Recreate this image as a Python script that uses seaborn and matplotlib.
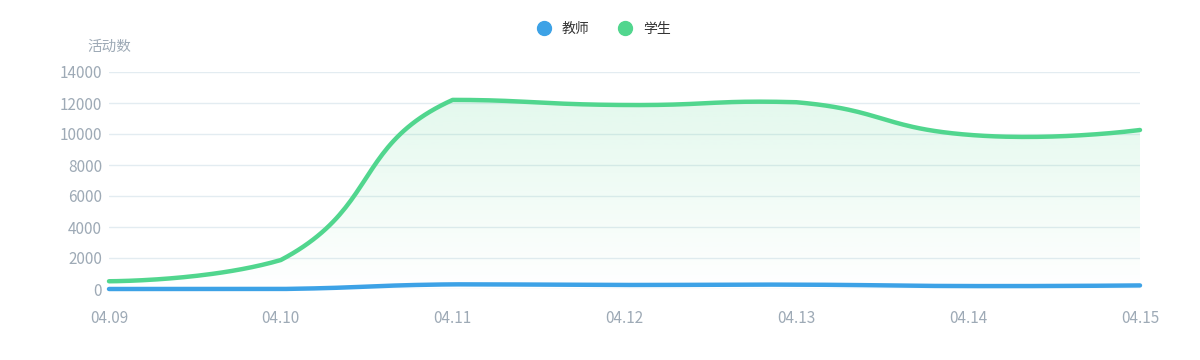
import numpy as np
import pandas as pd
import matplotlib
matplotlib.use("Agg")
import matplotlib.pyplot as plt
import seaborn as sns
from matplotlib.path import Path
from matplotlib.patches import PathPatch
from matplotlib.lines import Line2D
from matplotlib.colors import LinearSegmentedColormap

# ---- data ----
dates = ["04.09", "04.10", "04.11", "04.12", "04.13", "04.14", "04.15"]
teacher = [0, 0, 300, 260, 280, 190, 230]
student = [500, 1870, 12200, 11870, 12050, 9950, 10260]
series_names = ["教师", "学生"]
y_ticks = [0, 2000, 4000, 6000, 8000, 10000, 12000, 14000]
y_label = "活动数"

BLUE = "#3da2e6"
GREEN = "#51d68e"
TICK_C = "#9eaab6"

sns.set_theme(style="white")
plt.rcParams['font.family'] = ['Noto Sans CJK SC', 'DejaVu Sans']

AX_L, AX_R, AX_T, AX_B = 109, 1140, 72, 289
fig = plt.figure(figsize=(12, 3.6), dpi=100)
ax = fig.add_axes([AX_L / 1200, (360 - AX_B) / 360, (AX_R - AX_L) / 1200, (AX_B - AX_T) / 360])
ax.set_xlim(0, len(dates) - 1)
ax.set_ylim(0, 14000)

# pixel scales used for echarts-like smoothing
PX_X = (AX_R - AX_L) / (len(dates) - 1)
PX_Y = (AX_B - AX_T) / 14000


def echarts_smooth(vals, smooth=0.5, n=48):
    P = np.array([(i * PX_X, v * PX_Y) for i, v in enumerate(vals)], dtype=float)
    lo = P.min(axis=0)
    hi = P.max(axis=0)
    out = []
    cp0 = P[0].copy()
    for k in range(1, len(P)):
        p = P[k]
        prev = P[k - 1]
        if k == len(P) - 1:
            cp1 = p.copy()
            v = np.zeros(2)
            r = 0.5
        else:
            nxt = P[k + 1]
            v = nxt - prev
            lp = np.linalg.norm(p - prev)
            ln = np.linalg.norm(nxt - p)
            r = ln / (ln + lp)
            cp1 = p - v * smooth * (1 - r)
        c0 = np.clip(cp0, lo, hi)
        c1 = np.clip(cp1, lo, hi)
        t = np.linspace(0, 1, n)[:, None]
        seg = ((1 - t) ** 3) * prev + 3 * ((1 - t) ** 2) * t * c0 + 3 * (1 - t) * t ** 2 * c1 + t ** 3 * p
        if k > 1:
            seg = seg[1:]
        out.append(seg)
        cp0 = p + v * smooth * r
    arr = np.vstack(out)
    return arr[:, 0] / PX_X, arr[:, 1] / PX_Y


tx, ty = echarts_smooth(teacher)
sx, sy = echarts_smooth(student)

# gradient area under student line
poly = np.vstack([np.column_stack([sx, sy]), [[sx[-1], 0], [sx[0], 0]]])
clip = PathPatch(Path(poly), facecolor="none", edgecolor="none")
ax.add_patch(clip)
cmap = LinearSegmentedColormap.from_list(
    "g", [(81 / 255, 214 / 255, 142 / 255, 0.0), (81 / 255, 214 / 255, 142 / 255, 0.16)])
grad = np.linspace(0, 1, 256).reshape(-1, 1)
im = ax.imshow(grad, extent=[0, len(dates) - 1, 0, max(student)], origin="lower",
               cmap=cmap, aspect="auto", zorder=1, interpolation="bilinear")
im.set_clip_path(clip)

df = pd.concat([
    pd.DataFrame({"x": sx, "y": sy, "s": series_names[1]}),
    pd.DataFrame({"x": tx, "y": ty, "s": series_names[0]}),
])
sns.lineplot(data=df, x="x", y="y", hue="s", palette={series_names[0]: BLUE, series_names[1]: GREEN},
             hue_order=[series_names[1], series_names[0]], sort=False, estimator=None,
             linewidth=3.2, legend=False, ax=ax, zorder=3, clip_on=False)
ax.set_xlim(0, len(dates) - 1)
ax.set_ylim(0, 14000)

# grid & axes
ax.set_yticks(y_ticks)
ax.set_yticklabels([str(v) for v in y_ticks])
ax.set_xticks(range(len(dates)))
ax.set_xticklabels(dates)
ax.yaxis.grid(True, color="#e3ecf1", linewidth=1)
ax.xaxis.grid(False)
for sp in ax.spines.values():
    sp.set_visible(False)
ax.tick_params(axis="y", length=0, pad=5, labelsize=11, labelcolor=TICK_C)
ax.tick_params(axis="x", length=0, pad=15, labelsize=11, labelcolor=TICK_C)
ax.set_xlabel("")
ax.set_ylabel("")
ax.set_axisbelow(True)

fig.text(109 / 1200, 1 - 47 / 360, y_label, ha="center", va="center", fontsize=10.5, color=TICK_C)

handles = [Line2D([], [], linestyle="none", marker="o", markersize=10, color=BLUE),
           Line2D([], [], linestyle="none", marker="o", markersize=10, color=GREEN)]
fig.legend(handles, series_names, loc="center", bbox_to_anchor=(0.5 + 3 / 1200, 1 - 29 / 360), ncol=2,
           frameon=False, fontsize=10, handletextpad=0.7, columnspacing=1.95, handlelength=1.2,
           labelcolor="#333333")

fig.savefig("out.png", dpi=100)
